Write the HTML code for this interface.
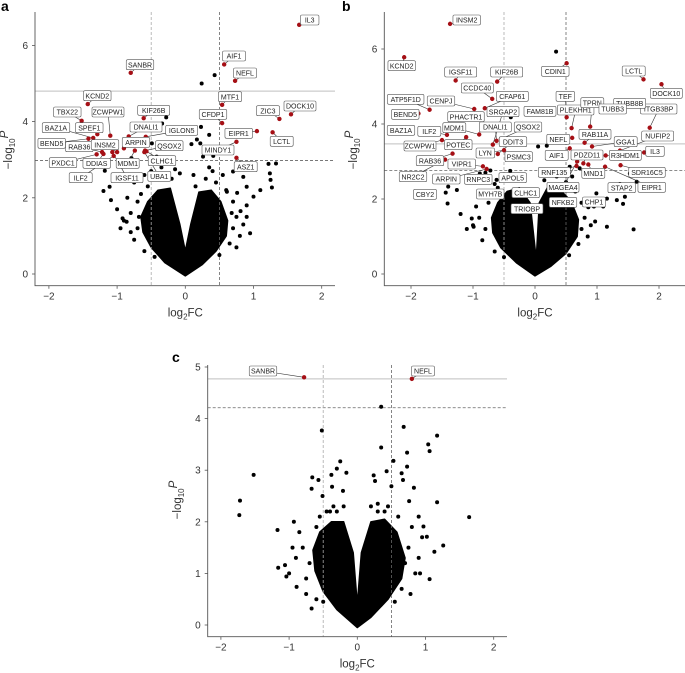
<!DOCTYPE html>
<html><head><meta charset="utf-8">
<style>
body{margin:0;background:#fff;}
svg{display:block;font-family:"Liberation Sans",sans-serif;}
</style></head>
<body>
<svg id="fig" width="685" height="673" viewBox="0 0 685 673"></svg>
<script>
// ---------- Panel a data ----------
const aRedX=[1.67,0.57,0.73,-0.80,0.54,0.54,1.38,1.55,1.05,1.28,0.75,0.75,-1.43,-1.52,-1.10,-0.61,-0.83,-0.58,-1.29,-1.35,-1.42,-1.22,-1.00,-0.90,-0.59,-0.74,-0.57,-1.30,-1.20,-1.05,-1.07,-0.60];
const aRedY=[6.54,5.50,5.07,5.28,4.44,3.96,4.07,4.19,3.75,3.72,3.47,3.05,4.46,4.02,3.63,4.09,3.61,3.60,3.67,3.57,3.55,3.20,3.20,3.30,3.24,3.24,3.22,3.14,3.15,3.10,3.20,3.20];
const aNames=["IL3","AIF1","NEFL","SANBR","MTF1","CFDP1","ZIC3","DOCK10","EIPR1","LCTL","MINDY1","ASZ1","KCND2","TBX22","ZCWPW1","KIF26B","DNALI1","IGLON5","SPEF1","BAZ1A","BEND5","RAB36","INSM2","ARPIN","QSOX2","MDM1","CLHC1","PXDC1","DDIAS","ILF2","IGSF11","UBA1"];
const aLabX=[309.7,234,245,140,230,213,268,300,238.7,281.7,218,245.7,97.3,67.3,108,153.7,146,181.7,89.3,56,51.7,79.3,105,136,169.3,127.7,162,63,96.7,80.7,127,159.3];
const aLabY=[20,56,73,64.7,96.7,114.3,110.7,106,133.3,141.3,150,166.7,95.7,112,112,110.3,127,130.3,127.7,127.7,143.3,146.7,144.7,142.3,145.7,163.3,160.7,162.7,163.3,177.7,177.7,176.3];
const aBlkX=[0.43,0.24,0.23,0.35,0.09,0.17,-0.28,-0.34,-0.49,-0.79,-1.18,-1.11,-1.2,-1.09,-0.92,-0.86,1.22,1.33,1.24,1.25,1.27,1.1,1.0,0.9,0.85,0.7,0.61,0.76,0.81,0.9,0.95,-0.18,-0.08,-0.42,0.26,0.41,0.22,
 -0.7,-0.75,-0.8,-0.7,-0.65,-0.55,-0.45,-0.3,-0.9,-1.0,-0.85,0.7,0.75,0.7,0.6,0.45,0.3,0.65,0.8,0.85,-0.6,0.5,-0.45,-0.2,0.15,-0.95,0.9,0.55,-0.6,-0.75,-0.68,0.68,-0.5,0.4,-0.35,0.35,-0.15,0.12,0.75,-0.8];
const aBlkY=[5.22,5.0,3.86,3.65,3.41,3.53,4.11,3.95,3.43,3.04,2.71,2.29,2.18,1.94,1.46,1.37,2.89,2.9,2.64,2.47,2.27,2.2,2.03,2.29,2.55,2.69,2.16,2.13,1.65,1.5,1.07,2.9,2.64,3.08,3.08,3.1,3.43,
 1.2,0.9,1.6,1.9,2.1,2.3,2.5,2.6,1.4,1.7,2.0,1.2,1.5,1.9,2.2,2.4,2.5,0.8,1.0,1.3,0.6,0.5,0.45,2.5,2.3,1.2,1.8,2.6,2.6,2.4,1.5,1.6,2.7,2.7,2.8,2.8,2.75,2.6,0.7,1.1];
const aMassX=[0,-0.3,-0.5,-0.62,-0.65,-0.55,-0.4,-0.22,-0.08,0,0.08,0.2,0.38,0.52,0.62,0.6,0.45,0.25];
const aMassY=[-0.05,0.3,0.7,1.1,1.5,1.9,2.2,2.25,1.3,0.6,1.3,2.15,2.2,1.9,1.4,1.0,0.6,0.25];
// ---------- Panel b data ----------
const bRedX=[-1.37,-2.11,-1.28,-0.61,0.51,1.75,2.04,-0.69,-0.81,-1.70,-0.98,-1.88,-1.42,-0.90,-1.11,-1.50,0.51,0.59,0.89,1.85,0.60,0.56,0.92,1.37,1.76,1.14,0.78,1.38,1.13,0.86,0.67,-1.33,-0.84,-1.45,-0.78,-0.62,-0.50,-0.68,-0.55,-0.60,0.68,0.80];
const bRedY=[6.67,5.78,5.16,5.13,5.62,5.19,5.06,4.67,4.42,4.38,4.40,4.28,3.71,3.72,3.65,3.57,4.18,3.89,3.93,3.90,3.63,3.35,3.40,3.29,3.24,3.16,2.95,2.90,2.86,2.92,2.88,3.21,2.87,3.05,2.80,3.55,3.30,3.45,3.60,3.20,3.00,3.50];
const bNames=["INSM2","KCND2","IGSF11","KIF26B","CDIN1","LCTL","DOCK10","CCDC40","CFAP61","ATP5F1D","CENPJ","BEND5","ILF2","MDM1","POTEC","ZCWPW1","TEF","PLEKHH1","TPRN","ITGB3BP","NEFL","AIF1","GGA1","NUFIP2","IL3","R3HDM1","PDZD11","SDR16C5","EIPR1","MND1","RNF135","RAB36","VIPR1","NR2C2","ARPIN","DNALI1","LYN","SRGAP2","QSOX2","DDIT3","MAGEA4","RAB11A"];
const bLabX=[466.7,401.7,460.7,506.7,555.3,633.7,666.3,477.3,512.3,405.7,441,405.3,429.3,454.3,458.3,420,565.3,575.7,592.3,658.7,558.3,556.7,625.7,657.7,655,625.3,587,647,651.7,593.3,554.3,430,461.7,413,446.3,495.3,485.3,503,528,513,563,595];
const bLabY=[20,65.7,72,72,71.3,71,93.3,88,96.3,99.3,101,114.3,131.3,127.7,144.7,146,96.3,110,102.7,109,139.3,155.3,141.7,136,151.3,155.3,155,172.3,187.3,173.3,172.3,160.7,164,176.7,179,127,153,111.7,127,141.7,187.3,134.3];
const bExtraNames=["TUBB8B","TUBB3","FAM81B","PHACTR1","BAZ1A","PSMC3","RNPC3","APOL5","STAP2","CBY2","MYH7B","CLHC1","NFKB2","CHP1","TRIOBP"];
const bExtraX=[629.7,612.7,540,466,401,518.7,478.3,512.7,621.7,425,490.3,525.7,563,594,527];
const bExtraY=[103.3,109,111.3,116.7,130.3,156.7,179.3,177.7,187.7,194.3,194,192.7,202.3,202,208.7];
const bBlkX=[0.34,-0.39,-0.18,0.05,0.19,0.24,0.13,-1.4,-1.26,-1.44,-1.41,-1.02,-0.99,0.56,0.72,1.37,1.45,1.42,1.32,1.16,1.1,0.99,0.97,1.16,1.59,1.64,1.53,0.86,-0.72,-0.62,-0.89,-1.2,-1.1,
 -0.8,-0.85,-0.9,-0.75,-0.7,-0.6,-0.5,-0.35,-1.0,-0.95,0.75,0.8,0.75,0.65,0.5,0.35,0.7,0.85,0.9,-0.65,0.55,-0.5,-0.2,0.15,0.95,0.6,-0.65,-0.8,0.4,-0.4,0.25];
const bBlkY=[5.93,4.18,3.56,3.4,3.42,3.13,2.68,2.33,2.24,2.17,1.88,1.48,1.26,2.86,2.82,2.4,2.06,1.87,1.97,2.01,1.8,2.15,1.4,1.26,1.19,2.46,2.68,1.78,2.76,2.51,2.68,1.6,1.2,
 1.2,0.9,1.5,1.9,2.1,2.3,2.5,2.6,1.3,1.8,1.2,1.5,1.9,2.2,2.45,2.6,0.8,1.0,1.3,0.6,0.5,0.45,2.6,2.5,1.8,2.6,2.4,2.7,2.7,2.75,2.7];
const bMassX=[0,-0.3,-0.55,-0.68,-0.7,-0.6,-0.45,-0.25,-0.08,0.02,0.07,0.2,0.4,0.58,0.7,0.68,0.5,0.25];
const bMassY=[-0.05,0.3,0.7,1.1,1.5,1.9,2.2,2.3,1.9,0.4,1.9,2.3,2.25,1.95,1.45,1.0,0.55,0.2];
// ---------- Panel c data ----------
const cRedX=[-0.78,0.80];
const cRedY=[4.80,4.77];
const cNames=["SANBR","NEFL"];
const cLabX=[263,423];
const cLabY=[371,371];
const cBlkX=[0.35,-0.52,0.68,1.17,1.04,1.06,0.35,0.73,0.53,0.73,0.65,0.67,0.83,0.76,1.17,1.64,1.26,-1.52,-1.72,-1.73,-1.17,-1.16,-1.06,-0.93,-0.66,-0.57,-0.67,-0.51,-0.3,-0.25,-0.16,-0.38,-0.37,-0.21,0.24,0.26,0.43,0.5,0.97,1.02,1.13,1.06,0.92,-0.67,-1.04,-0.89,
 -0.7,-0.75,-0.8,-0.6,-0.55,-0.45,-0.35,-0.9,-0.85,0.7,0.75,0.8,0.6,0.45,0.3,0.65,0.85,0.9,-0.6,0.55,-0.5,-0.2,0.2,0.95,-0.75,0.4,-0.4,-1.0,-0.95,0.9,0.78,-0.3,0.3];
const cBlkY=[4.23,3.77,3.84,3.67,3.5,3.37,3.44,3.34,3.18,3.07,2.94,2.81,2.66,2.4,2.38,2.09,1.54,2.91,2.41,2.13,1.84,1.11,1.16,2.0,2.86,2.81,2.64,2.5,3.03,3.17,2.95,2.91,2.68,2.6,2.9,2.79,2.98,2.69,1.91,1.71,1.42,0.89,1.0,0.32,0.94,0.74,
 1.2,0.9,1.5,1.9,2.1,2.2,2.3,1.3,1.8,1.2,1.5,1.9,2.1,2.3,2.35,0.7,1.0,1.3,0.5,0.45,0.45,2.3,2.3,1.7,0.6,2.2,2.2,1.0,1.5,2.1,0.6,2.2,2.2];
const cMassX=[0,-0.3,-0.5,-0.62,-0.65,-0.55,-0.38,-0.2,-0.06,0.0,0.06,0.2,0.4,0.58,0.7,0.65,0.45,0.2];
const cMassY=[-0.05,0.3,0.65,1.05,1.45,1.8,2.0,2.0,1.4,0.4,1.4,2.0,2.05,1.8,1.3,0.9,0.5,0.15];
const ticksX=[-2,-1,0,1,2];

const NS="http://www.w3.org/2000/svg";
const svg=document.getElementById('fig');
function mk(tag,attrs,parent){const e=document.createElementNS(NS,tag);for(const k in attrs)e.setAttribute(k,attrs[k]);(parent||svg).appendChild(e);return e;}

function panel(P){
  const g=mk('g',{});
  
  
  const sx=v=>P.x0+v*P.ux, sy=v=>P.y0-v*P.uy;
  let pts=P.mx.map((v,i)=>sx(v)+','+sy(P.my[i])).join(' ');
  const poly=mk('polygon',{points:pts,fill:'#000',stroke:'#000','stroke-width':1.5,'stroke-linejoin':'round'},g);
  
  
  P.hl.forEach((h,i)=>{const l=mk('line',{x1:P.left,x2:P.right,y1:sy(h),y2:sy(h),stroke:i==0?'#ccc':'#666','stroke-width':i==0?1.2:0.8,'stroke-dasharray':i==0?'':'3,2'},g);
    
    });
  [-0.5,0.5].forEach((v,i)=>{const l=mk('line',{x1:sx(v),x2:sx(v),y1:P.top,y2:P.bottom,stroke:i==0?'#aaa':'#666','stroke-width':0.8,'stroke-dasharray':'3,2'},g);
    
    });
  P.bx.forEach((v,i)=>{const c=mk('circle',{cx:sx(v),cy:sy(P.by[i]),r:2,fill:'#000'},g);
    
    });
  P.names.forEach((n,i)=>{mk('line',{x1:P.lx[i],y1:P.ly[i],x2:sx(P.rx[i]),y2:sy(P.ry[i]),stroke:'#333','stroke-width':0.6},g);});
  P.rx.forEach((v,i)=>{const c=mk('circle',{cx:sx(v),cy:sy(P.ry[i]),r:2.2,fill:'#a50f15'},g);
    
    });
  const allN=P.names.concat(P.en||[]), allX=P.lx.concat(P.ex||[]), allY=P.ly.concat(P.ey||[]);
  allN.forEach((n,i)=>{
    const w=n.length*4.5+5;
    const r=mk('rect',{x:allX[i]-w/2,y:allY[i]-5,width:w,height:10,rx:1.5,fill:'#fff',stroke:'#555','stroke-width':0.6},g);
    
    
    const t=mk('text',{x:allX[i],y:allY[i]+2.7,'font-size':7,'text-anchor':'middle',fill:'#222'},g);
    t.textContent=n;
    
    
  });
  const ax=mk('path',{d:`M${P.left},${P.top} V${P.bottom} H${P.right}`,fill:'none',stroke:'#555','stroke-width':0.9},g);
  
  
  ticksX.forEach(v=>{mk('line',{x1:sx(v),x2:sx(v),y1:P.bottom,y2:P.bottom+3,stroke:'#555','stroke-width':0.8},g);
    const t=mk('text',{x:sx(v),y:P.bottom+14,'font-size':10,'text-anchor':'middle',fill:'#333'},g);
    t.textContent=v<0?'\u2212'+(-v):v;
    
    });
  P.yt.forEach(v=>{mk('line',{x1:P.left-3,x2:P.left,y1:sy(v),y2:sy(v),stroke:'#555','stroke-width':0.8},g);
    const t=mk('text',{x:P.left-7,y:sy(v)+3.5,'font-size':10,'text-anchor':'end',fill:'#333'},g);
    t.textContent=v;
    
    });
  const xl=mk('text',{x:sx(0),y:P.bottom+31,'font-size':11.5,'text-anchor':'middle',fill:'#333'},g);
  xl.innerHTML='log<tspan font-size="8" dy="3">2</tspan><tspan dy="-3">FC</tspan>';
  
  
  const yl=mk('text',{x:0,y:0,'font-size':11.5,'text-anchor':'middle',fill:'#333',transform:`translate(${P.ylx},${P.yly}) rotate(-90)`},g);
  yl.innerHTML='\u2212log<tspan font-size="8" dy="3">10</tspan><tspan dy="-7" font-style="italic">P</tspan>';
  
  
  const pl=mk('text',{x:P.plx,y:P.ply,'font-size':14,'font-weight':'bold',fill:'#000'},g);
  pl.textContent=P.id;
  
  
}
panel({id:'a',x0:185.3,ux:68.2,y0:274,uy:38.1,left:35,right:335,top:12,bottom:285.7,hl:[4.8,2.98],yt:[0,2,4,6],
  mx:aMassX,my:aMassY,bx:aBlkX,by:aBlkY,rx:aRedX,ry:aRedY,names:aNames,lx:aLabX,ly:aLabY,ylx:12,yly:150,plx:1,ply:11});
panel({id:'b',x0:535,ux:62,y0:274,uy:37.5,left:384.3,right:685,top:12,bottom:285.7,hl:[3.47,2.76],yt:[0,2,4,6],
  mx:bMassX,my:bMassY,bx:bBlkX,by:bBlkY,rx:bRedX,ry:bRedY,names:bNames,lx:bLabX,ly:bLabY,en:bExtraNames,ex:bExtraX,ey:bExtraY,ylx:357,yly:150,plx:342,ply:11});
panel({id:'c',x0:357.3,ux:68.2,y0:625,uy:51.6,left:207.7,right:507,top:365,bottom:636.7,hl:[4.77,4.21],yt:[0,1,2,3,4,5],
  mx:cMassX,my:cMassY,bx:cBlkX,by:cBlkY,rx:cRedX,ry:cRedY,names:cNames,lx:cLabX,ly:cLabY,ylx:181,yly:500,plx:172,ply:362});
</script>
</body></html>
